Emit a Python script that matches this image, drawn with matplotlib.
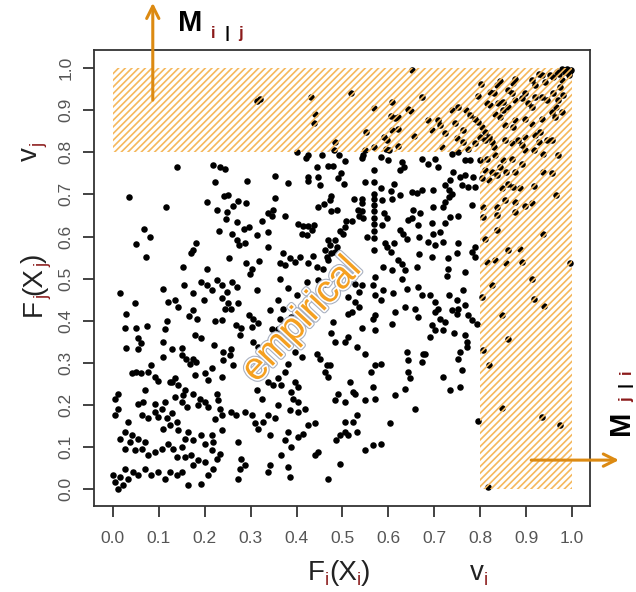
import numpy as np
import matplotlib
matplotlib.use("Agg")
import matplotlib.pyplot as plt
from matplotlib.patches import Rectangle
from matplotlib.transforms import IdentityTransform
import matplotlib.patheffects as pe

# points (empirical copula sample), as (u_i, u_j)
pts = [
    # upper left part
    (0.139, 0.766), (0.219, 0.770), (0.233, 0.766), (0.245, 0.760), (0.222, 0.729), (0.293, 0.732),
    (0.036, 0.694), (0.115, 0.671), (0.204, 0.681), (0.243, 0.696), (0.250, 0.699), (0.272, 0.685),
    (0.261, 0.673), (0.290, 0.679), (0.227, 0.663), (0.248, 0.658), (0.246, 0.641), (0.324, 0.637),
    (0.270, 0.634), (0.296, 0.623), (0.286, 0.617), (0.067, 0.619), (0.080, 0.599), (0.232, 0.614),
    (0.259, 0.607), (0.313, 0.603), (0.270, 0.591), (0.275, 0.580), (0.288, 0.584), (0.050, 0.583),
    (0.181, 0.584), (0.175, 0.569), (0.170, 0.560), (0.073, 0.551), (0.253, 0.549), (0.291, 0.538),
    (0.319, 0.543), (0.153, 0.527), (0.205, 0.522), (0.302, 0.522), (0.298, 0.512), (0.313, 0.921),
    (0.320, 0.927),
    # upper middle part
    (0.652, 0.995), (0.519, 0.942), (0.431, 0.932), (0.440, 0.892), (0.438, 0.870), (0.568, 0.906),
    (0.607, 0.919), (0.673, 0.932), (0.643, 0.902), (0.650, 0.897), (0.606, 0.886), (0.615, 0.881),
    (0.622, 0.883), (0.552, 0.849), (0.608, 0.853), (0.620, 0.855), (0.590, 0.837), (0.596, 0.829),
    (0.656, 0.838), (0.620, 0.815), (0.484, 0.825), (0.482, 0.805), (0.568, 0.812), (0.595, 0.809),
    (0.601, 0.805), (0.549, 0.805), (0.402, 0.801), (0.426, 0.793), (0.420, 0.787), (0.456, 0.793),
    (0.492, 0.793), (0.506, 0.780), (0.545, 0.793), (0.542, 0.786), (0.584, 0.789), (0.600, 0.781),
    (0.630, 0.778), (0.633, 0.764), (0.625, 0.759), (0.673, 0.785), (0.444, 0.764), (0.469, 0.767),
    (0.480, 0.767), (0.568, 0.759), (0.353, 0.743), (0.426, 0.742), (0.424, 0.732), (0.447, 0.742),
    (0.491, 0.740), (0.497, 0.750), (0.451, 0.722), (0.503, 0.724), (0.381, 0.726), (0.549, 0.730),
    (0.569, 0.729), (0.613, 0.724), (0.585, 0.716), (0.605, 0.708), (0.625, 0.698), (0.651, 0.706),
    (0.662, 0.704), (0.673, 0.710), (0.353, 0.691), (0.475, 0.696), (0.447, 0.670), (0.460, 0.677),
    (0.473, 0.686), (0.476, 0.661), (0.489, 0.664), (0.526, 0.688), (0.542, 0.688), (0.542, 0.679),
    (0.543, 0.661), (0.568, 0.702), (0.568, 0.688), (0.568, 0.674), (0.568, 0.661), (0.587, 0.687),
    (0.607, 0.688), (0.338, 0.655), (0.349, 0.663), (0.346, 0.648), (0.375, 0.648), (0.533, 0.663),
    (0.537, 0.648), (0.545, 0.643), (0.591, 0.656), (0.597, 0.643), (0.654, 0.663), (0.669, 0.656),
    (0.404, 0.630), (0.415, 0.624), (0.426, 0.626), (0.439, 0.628), (0.411, 0.607), (0.422, 0.603),
    (0.433, 0.615), (0.508, 0.637), (0.521, 0.637), (0.505, 0.622), (0.494, 0.614), (0.502, 0.607),
    (0.568, 0.645), (0.568, 0.629), (0.568, 0.613), (0.568, 0.597), (0.587, 0.627), (0.643, 0.639),
    (0.651, 0.643), (0.625, 0.615), (0.632, 0.606), (0.640, 0.595), (0.665, 0.627), (0.667, 0.598),
    (0.338, 0.611), (0.337, 0.575), (0.468, 0.591), (0.484, 0.591), (0.489, 0.575), (0.484, 0.563),
    (0.473, 0.579), (0.462, 0.567), (0.466, 0.551), (0.553, 0.599), (0.593, 0.585), (0.598, 0.575),
    (0.605, 0.563), (0.613, 0.585), (0.621, 0.544), (0.629, 0.534), (0.568, 0.567), (0.667, 0.559),
    (0.371, 0.561), (0.365, 0.537), (0.386, 0.550), (0.375, 0.532), (0.397, 0.540), (0.408, 0.552),
    (0.436, 0.553), (0.426, 0.536), (0.444, 0.528), (0.458, 0.524), (0.476, 0.560), (0.469, 0.544),
    (0.589, 0.528), (0.607, 0.520), (0.636, 0.521), (0.662, 0.528),
    # upper right corner
    (0.990, 0.999), (0.979, 0.999), (0.967, 0.991), (0.994, 0.983), (0.959, 0.979), (0.952, 0.983),
    (0.934, 0.983), (0.927, 0.987), (0.977, 0.971), (0.974, 0.955), (0.941, 0.967), (0.912, 0.971),
    (0.919, 0.960), (0.876, 0.975), (0.872, 0.964), (0.843, 0.970), (0.836, 0.960), (0.802, 0.963),
    (0.821, 0.943), (0.831, 0.941), (0.795, 0.933), (0.860, 0.948), (0.869, 0.940), (0.876, 0.924),
    (0.890, 0.928), (0.897, 0.940), (0.903, 0.916), (0.912, 0.908), (0.919, 0.932), (0.934, 0.932),
    (0.945, 0.924), (0.959, 0.940), (0.970, 0.924), (0.981, 0.936), (0.966, 0.908), (0.977, 0.896),
    (0.956, 0.896), (0.814, 0.916), (0.821, 0.912), (0.839, 0.916), (0.850, 0.920), (0.850, 0.900),
    (0.861, 0.908), (0.832, 0.892), (0.843, 0.884), (0.752, 0.908), (0.738, 0.900), (0.770, 0.900),
    (0.777, 0.888), (0.788, 0.880), (0.796, 0.872), (0.803, 0.861), (0.810, 0.849), (0.818, 0.837),
    (0.825, 0.825), (0.829, 0.813), (0.810, 0.829), (0.799, 0.837), (0.788, 0.821), (0.774, 0.809),
    (0.687, 0.876), (0.709, 0.876), (0.712, 0.864), (0.694, 0.853), (0.745, 0.869), (0.763, 0.853),
    (0.749, 0.835), (0.763, 0.825), (0.723, 0.845), (0.716, 0.813), (0.854, 0.864), (0.872, 0.861),
    (0.876, 0.876), (0.897, 0.880), (0.912, 0.868), (0.934, 0.880), (0.963, 0.884), (0.930, 0.849),
    (0.919, 0.841), (0.897, 0.837), (0.883, 0.829), (0.869, 0.821), (0.854, 0.829), (0.890, 0.817),
    (0.897, 0.805), (0.927, 0.825), (0.945, 0.829), (0.956, 0.829), (0.916, 0.805), (0.937, 0.797),
    (0.998, 0.996), (0.985, 0.990), (0.995, 0.993), (0.972, 0.985),
    # right band, upper part
    (0.800, 0.781), (0.814, 0.785), (0.832, 0.793), (0.850, 0.781), (0.869, 0.785), (0.890, 0.773),
    (0.810, 0.757), (0.825, 0.753), (0.843, 0.765), (0.857, 0.753), (0.876, 0.753), (0.937, 0.754),
    (0.956, 0.750), (0.970, 0.793), (0.836, 0.746), (0.818, 0.734), (0.803, 0.738), (0.847, 0.715),
    (0.861, 0.725), (0.872, 0.717), (0.887, 0.715), (0.916, 0.720), (0.966, 0.699), (0.854, 0.686),
    (0.876, 0.682), (0.897, 0.672), (0.912, 0.680), (0.807, 0.669), (0.836, 0.669), (0.876, 0.659),
    (0.807, 0.647), (0.836, 0.651), (0.836, 0.615), (0.937, 0.605), (0.810, 0.595), (0.861, 0.567),
    (0.887, 0.571), (0.814, 0.540), (0.832, 0.545), (0.857, 0.537), (0.890, 0.540), (0.996, 0.537),
    # left of the band, upper part
    (0.702, 0.785), (0.687, 0.772), (0.709, 0.766), (0.738, 0.797), (0.752, 0.801), (0.767, 0.781),
    (0.777, 0.781), (0.741, 0.754), (0.756, 0.742), (0.767, 0.746), (0.785, 0.742), (0.789, 0.718),
    (0.734, 0.734), (0.723, 0.722), (0.731, 0.710), (0.760, 0.722), (0.774, 0.718), (0.698, 0.710),
    (0.731, 0.694), (0.723, 0.682), (0.720, 0.670), (0.738, 0.702), (0.698, 0.670), (0.781, 0.674),
    (0.734, 0.647), (0.752, 0.649), (0.723, 0.631), (0.694, 0.631), (0.712, 0.611), (0.698, 0.607),
    (0.687, 0.587), (0.702, 0.579), (0.720, 0.587), (0.752, 0.585), (0.788, 0.575), (0.781, 0.563),
    (0.730, 0.548), (0.749, 0.561), (0.694, 0.551), (0.767, 0.516), (0.730, 0.524), (0.788, 0.551),
    # lower left part
    (0.015, 0.467), (0.110, 0.475), (0.155, 0.486), (0.193, 0.492), (0.204, 0.485), (0.215, 0.473),
    (0.226, 0.497), (0.237, 0.485), (0.259, 0.492), (0.270, 0.481), (0.248, 0.469), (0.313, 0.473),
    (0.049, 0.441), (0.121, 0.445), (0.135, 0.449), (0.142, 0.433), (0.175, 0.465), (0.199, 0.449),
    (0.237, 0.453), (0.251, 0.441), (0.244, 0.429), (0.257, 0.429), (0.273, 0.441), (0.028, 0.415),
    (0.174, 0.425), (0.166, 0.412), (0.184, 0.404), (0.222, 0.399), (0.237, 0.401), (0.296, 0.413),
    (0.305, 0.405), (0.026, 0.383), (0.051, 0.383), (0.075, 0.388), (0.117, 0.399), (0.113, 0.380),
    (0.269, 0.390), (0.280, 0.382), (0.277, 0.366), (0.302, 0.386), (0.316, 0.394), (0.055, 0.358),
    (0.061, 0.346), (0.054, 0.334), (0.179, 0.366), (0.193, 0.358), (0.110, 0.350), (0.128, 0.334),
    (0.151, 0.335), (0.028, 0.336), (0.221, 0.343), (0.240, 0.326), (0.258, 0.334), (0.255, 0.318),
    (0.240, 0.306), (0.306, 0.350), (0.317, 0.338), (0.110, 0.314), (0.150, 0.318), (0.160, 0.310),
    (0.175, 0.310), (0.168, 0.298), (0.182, 0.302), (0.262, 0.295), (0.084, 0.294), (0.041, 0.275),
    (0.051, 0.278), (0.062, 0.275), (0.077, 0.278), (0.091, 0.267), (0.099, 0.256), (0.124, 0.255),
    (0.135, 0.263), (0.179, 0.270), (0.200, 0.275), (0.208, 0.259), (0.215, 0.287), (0.237, 0.267),
    (0.012, 0.227), (0.005, 0.215), (0.011, 0.191), (0.005, 0.175), (0.070, 0.235), (0.128, 0.255),
    (0.142, 0.247), (0.157, 0.235), (0.153, 0.223), (0.135, 0.219), (0.150, 0.207), (0.161, 0.195),
    (0.175, 0.227), (0.189, 0.215), (0.200, 0.207), (0.186, 0.199), (0.208, 0.195), (0.226, 0.227),
    (0.229, 0.211), (0.233, 0.191), (0.237, 0.175), (0.222, 0.167), (0.055, 0.203), (0.066, 0.207),
    (0.091, 0.203), (0.113, 0.207), (0.106, 0.191), (0.091, 0.183), (0.099, 0.171), (0.117, 0.168),
    (0.128, 0.180), (0.077, 0.168), (0.063, 0.176), (0.139, 0.160), (0.124, 0.152), (0.110, 0.144),
    (0.142, 0.140), (0.164, 0.136), (0.157, 0.120), (0.175, 0.116), (0.193, 0.128), (0.200, 0.108),
    (0.215, 0.128), (0.219, 0.112), (0.237, 0.140), (0.258, 0.183), (0.269, 0.176), (0.287, 0.183),
    (0.302, 0.176), (0.309, 0.156), (0.317, 0.144), (0.033, 0.160), (0.026, 0.136), (0.041, 0.128),
    (0.015, 0.120), (0.037, 0.112), (0.055, 0.120), (0.070, 0.112), (0.063, 0.096), (0.048, 0.092),
    (0.026, 0.096), (0.077, 0.080), (0.091, 0.088), (0.106, 0.096), (0.121, 0.108), (0.131, 0.096),
    (0.150, 0.100), (0.139, 0.077), (0.157, 0.077), (0.171, 0.080), (0.186, 0.069), (0.175, 0.057),
    (0.200, 0.065), (0.215, 0.092), (0.233, 0.084), (0.226, 0.072), (0.273, 0.112), (0.280, 0.072),
    (0.277, 0.049), (0.273, 0.025), (0.287, 0.057), (0.004, 0.017), (0.015, 0.029), (0.012, 0.001),
    (0.022, 0.009), (0.033, 0.025), (0.044, 0.041), (0.055, 0.033), (0.070, 0.049), (0.084, 0.033),
    (0.099, 0.041), (0.113, 0.025), (0.124, 0.041), (0.139, 0.033), (0.150, 0.041), (0.164, 0.009),
    (0.193, 0.013), (0.208, 0.033), (0.219, 0.049), (0.001, 0.033), (0.026, 0.049), (0.313, 0.235),
    (0.324, 0.215), (0.327, 0.160),
    # lower middle part
    (0.364, 0.499), (0.422, 0.492), (0.447, 0.496), (0.462, 0.488), (0.382, 0.477), (0.400, 0.461),
    (0.342, 0.425), (0.360, 0.449), (0.371, 0.429), (0.364, 0.405), (0.375, 0.397), (0.389, 0.409),
    (0.346, 0.381), (0.360, 0.381), (0.527, 0.488), (0.542, 0.484), (0.535, 0.469), (0.513, 0.456),
    (0.527, 0.445), (0.535, 0.433), (0.520, 0.421), (0.513, 0.417), (0.571, 0.505), (0.567, 0.485),
    (0.571, 0.461), (0.589, 0.473), (0.585, 0.449), (0.611, 0.465), (0.629, 0.500), (0.640, 0.476),
    (0.665, 0.480), (0.673, 0.461), (0.636, 0.433), (0.658, 0.429), (0.665, 0.409), (0.614, 0.421),
    (0.571, 0.413), (0.567, 0.405), (0.607, 0.393), (0.571, 0.378), (0.542, 0.382), (0.513, 0.362),
    (0.480, 0.397), (0.476, 0.370), (0.484, 0.350), (0.505, 0.350), (0.531, 0.338), (0.549, 0.322),
    (0.585, 0.298), (0.571, 0.295), (0.563, 0.279), (0.516, 0.255), (0.527, 0.227), (0.522, 0.231),
    (0.505, 0.207), (0.491, 0.227), (0.484, 0.211), (0.549, 0.211), (0.571, 0.215), (0.567, 0.243),
    (0.614, 0.223), (0.636, 0.239), (0.643, 0.279), (0.640, 0.326), (0.643, 0.306), (0.647, 0.263),
    (0.658, 0.191), (0.676, 0.322), (0.673, 0.302), (0.604, 0.156), (0.444, 0.322), (0.451, 0.310),
    (0.466, 0.295), (0.462, 0.279), (0.469, 0.267), (0.473, 0.295), (0.411, 0.314), (0.397, 0.326),
    (0.382, 0.298), (0.375, 0.279), (0.360, 0.263), (0.349, 0.247), (0.338, 0.255), (0.367, 0.247),
    (0.397, 0.255), (0.404, 0.243), (0.389, 0.231), (0.393, 0.215), (0.404, 0.207), (0.386, 0.187),
    (0.404, 0.183), (0.418, 0.191), (0.360, 0.199), (0.353, 0.168), (0.338, 0.176), (0.342, 0.128),
    (0.382, 0.136), (0.375, 0.116), (0.389, 0.100), (0.404, 0.124), (0.415, 0.132), (0.426, 0.152),
    (0.440, 0.156), (0.447, 0.088), (0.440, 0.080), (0.505, 0.160), (0.523, 0.160), (0.531, 0.176),
    (0.505, 0.136), (0.494, 0.128), (0.487, 0.116), (0.513, 0.128), (0.531, 0.136), (0.549, 0.092),
    (0.567, 0.104), (0.585, 0.108), (0.494, 0.060), (0.469, 0.025), (0.386, 0.029), (0.382, 0.053),
    (0.342, 0.057), (0.338, 0.041), (0.367, 0.080),
    # lower right part
    (0.727, 0.507), (0.691, 0.461), (0.702, 0.445), (0.709, 0.429), (0.702, 0.421), (0.712, 0.405),
    (0.723, 0.397), (0.731, 0.461), (0.749, 0.449), (0.752, 0.429), (0.738, 0.425), (0.749, 0.417),
    (0.767, 0.437), (0.763, 0.473), (0.774, 0.413), (0.781, 0.401), (0.792, 0.393), (0.694, 0.389),
    (0.702, 0.377), (0.720, 0.377), (0.691, 0.362), (0.742, 0.370), (0.767, 0.367), (0.771, 0.350),
    (0.771, 0.338), (0.756, 0.326), (0.752, 0.310), (0.760, 0.283), (0.720, 0.267), (0.734, 0.235),
    (0.756, 0.243), (0.680, 0.322), (0.825, 0.486), (0.912, 0.500), (0.803, 0.457), (0.918, 0.451),
    (0.939, 0.436), (0.848, 0.413), (0.860, 0.356), (0.807, 0.330), (0.818, 0.296), (0.847, 0.193),
    (0.796, 0.161), (0.935, 0.172), (0.974, 0.152), (0.817, 0.005),
]
u_i = [p[0] for p in pts]
u_j = [p[1] for p in pts]

ticks = [0.0, 0.1, 0.2, 0.3, 0.4, 0.5, 0.6, 0.7, 0.8, 0.9, 1.0]
tick_labels = ["%.1f" % t for t in ticks]
v_i = 0.8
v_j = 0.8

W, H = 636, 592
hatch_col = "#F5B85C"
arrow_col = "#DC8A12"
sub_col = "#8B1A1A"

plt.rcParams["font.family"] = ["Liberation Sans", "DejaVu Sans"]
plt.rcParams["hatch.linewidth"] = 1.2

fig = plt.figure(figsize=(W / 100, H / 100), dpi=100)
ax = fig.add_axes([94 / W, 1 - 506 / H, 496 / W, 456 / H])

ax.scatter(u_i, u_j, s=22, color="black", linewidths=0, zorder=2)

# hatched regions u_j > v_j and u_i > v_i
ax.add_patch(Rectangle((0, v_j), 1, 1 - v_j, fill=False, hatch="/////",
                       edgecolor=hatch_col, linewidth=0, zorder=3))
ax.add_patch(Rectangle((v_i, 0), 1 - v_i, v_j, fill=False, hatch="/////",
                       edgecolor=hatch_col, linewidth=0, zorder=3))

ax.set_xlim(-0.041, 1.039)
ax.set_ylim(-0.040, 1.043)
ax.set_xticks(ticks)
ax.set_xticklabels(tick_labels)
ax.set_yticks(ticks)
ax.set_yticklabels(tick_labels, rotation=90, va="center")
ax.tick_params(direction="out", length=8, width=1.2, colors="#222222",
               labelcolor="#555555", labelsize=12.5)
ax.tick_params(axis="x", pad=10)
ax.tick_params(axis="y", pad=7)
for sp in ax.spines.values():
    sp.set_linewidth(1.3)
    sp.set_color("#333333")

txt = ax.text(0.412, 0.402, "empirical", rotation=47, fontsize=28, color="#F5A020",
              ha="center", va="center", zorder=4, rotation_mode="anchor")
txt.set_path_effects([pe.Stroke(linewidth=4, foreground="#A8B0C0"),
                      pe.Stroke(linewidth=2.4, foreground="white"), pe.Normal()])

# arrows
ax.annotate("", xy=(0.087, 1.155), xytext=(0.087, 0.924), annotation_clip=False,
            arrowprops=dict(arrowstyle="->", color=arrow_col, lw=2.2, mutation_scale=22,
                            shrinkA=0, shrinkB=0))
ax.annotate("", xy=(1.102, 0.069), xytext=(0.911, 0.069), annotation_clip=False,
            arrowprops=dict(arrowstyle="->", color=arrow_col, lw=2.2, mutation_scale=22,
                            shrinkA=0, shrinkB=0))

rend = fig.canvas.get_renderer()
ident = IdentityTransform()


def chain(parts, x0, y0, rot=0):
    # parts: (text, size, colour, weight, drop in px); x0, y0 in reference pixels
    pos = x0 if rot == 0 else H - y0
    for s, size, col, wt, drop in parts:
        if rot == 0:
            t = fig.text(pos, H - (y0 + drop), s, fontsize=size, color=col, weight=wt,
                         ha="left", va="baseline", transform=ident)
            pos = t.get_window_extent(rend).x1
        else:
            t = fig.text(x0 + drop, pos, s, fontsize=size, color=col, weight=wt,
                         rotation=90, rotation_mode="anchor", ha="left", va="baseline",
                         transform=ident)
            pos = t.get_window_extent(rend).y1


lab = 20
sub = 13
chain([("F", lab, "#222222", "normal", 0), ("i", sub, sub_col, "normal", 5),
       ("(X", lab, "#222222", "normal", 0), ("i", sub, sub_col, "normal", 5),
       (")", lab, "#222222", "normal", 0)], 308, 580)
chain([("v", lab, "#222222", "normal", 0), ("i", sub, sub_col, "normal", 5)], 470, 580)
chain([("F", lab, "#222222", "normal", 0), ("j", sub, sub_col, "normal", 6),
       ("(X", lab, "#222222", "normal", 0), ("j", sub, sub_col, "normal", 6),
       (")", lab, "#222222", "normal", 0)], 41, 316, rot=90)
chain([("v", lab, "#222222", "normal", 0), ("j", sub, sub_col, "normal", 6)], 37, 161, rot=90)

fig.text(178, H - 31, "M", fontsize=21, weight="bold", color="black",
         ha="left", va="baseline", transform=ident)
chain([("i", 12, sub_col, "bold", 0), ("  |  ", 12, "black", "bold", 0),
       ("j", 12, sub_col, "bold", 0)], 211, 38)
fig.text(629, H - 435, "M", fontsize=21, weight="bold", color="black", rotation=90,
         rotation_mode="anchor", ha="left", va="baseline", transform=ident)
chain([("j", 12, sub_col, "bold", 0), ("  |  ", 12, "black", "bold", 0),
       ("i", 12, sub_col, "bold", 0)], 631, 402, rot=90)

fig.savefig("out.png", dpi=100)
